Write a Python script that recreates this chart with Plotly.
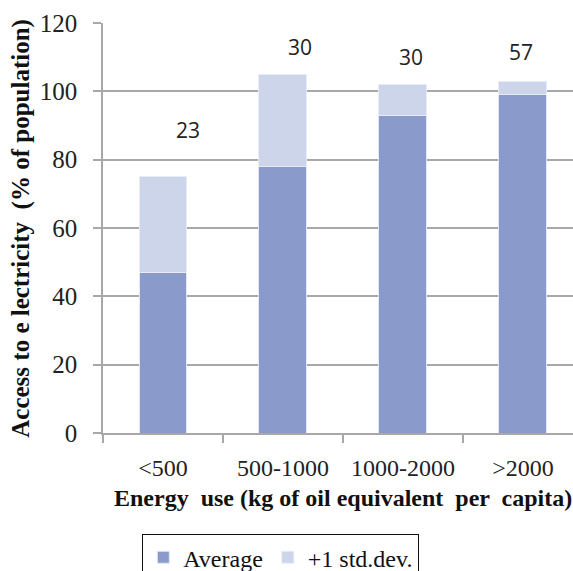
import plotly.graph_objects as go

# Energy-use classes and electricity access statistics
categories = ["<500", "500-1000", "1000-2000", ">2000"]
average = [47, 78, 93, 99]
std_dev = [28, 27, 9, 4]
sample_sizes = ["23", "30", "30", "57"]
label_heights = [88.7, 113, 110, 111.5]
label_shifts = [25, 17, 8, -2]
y_ticks = [0, 20, 40, 60, 80, 100, 120]

dark = "#8a9acb"
light = "#ccd5e9"
grid = "#a8a8a8"
serif = "Liberation Serif, Times New Roman, serif"

fig = go.Figure()
fig.add_trace(go.Bar(
    x=categories, y=average, name="Average",
    marker=dict(color=dark, line=dict(color="#e4e8f4", width=1)),
))
fig.add_trace(go.Bar(
    x=categories, y=std_dev, name="+1 std.dev.",
    marker=dict(color=light, line=dict(color="#e8ecf6", width=1)),
))

for cat, txt, h, dx in zip(categories, sample_sizes, label_heights, label_shifts):
    fig.add_annotation(
        x=cat, y=h, xref="x", yref="y", text=txt, showarrow=False,
        xshift=dx, font=dict(family="Open Sans, sans-serif", size=21, color="#222"),
    )

# axis titles
fig.add_annotation(
    x=1.5, xref="x", y=-0.158, yref="paper", yanchor="middle",
    text="<b>Energy\u00a0 use (kg of oil equivalent \u00a0per \u00a0capita)</b>",
    showarrow=False, font=dict(family=serif, size=24, color="#111"),
)
fig.add_annotation(
    x=-0.175, xref="paper", y=0.5, yref="paper", xanchor="center",
    text="<b>Access to e lectricity \u00a0(% of population)</b>",
    textangle=-90, showarrow=False, font=dict(family=serif, size=25, color="#111"),
)

fig.update_layout(
    width=573, height=571,
    margin=dict(l=103, r=0, t=23, b=138, autoexpand=False),
    paper_bgcolor="white", plot_bgcolor="white",
    barmode="stack", bargap=0.6,
    showlegend=True,
    legend=dict(
        orientation="h", x=0.083, xanchor="left", y=-0.246, yanchor="top",
        traceorder="normal",
        bordercolor="#111", borderwidth=1.3,
        font=dict(family=serif, size=24, color="#111"),
    ),
    xaxis=dict(
        type="category", range=[-0.5, 3.417],
        showline=True, linecolor=grid, linewidth=1.5,
        ticks="outside", tickson="boundaries", ticklen=8, tickcolor=grid, tickwidth=1.5,
        tickfont=dict(family=serif, size=24, color="#222"),
        ticklabelstandoff=12,
        showgrid=False, fixedrange=True,
    ),
    yaxis=dict(
        range=[0, 120], tickvals=y_ticks,
        showline=True, linecolor=grid, linewidth=1.5,
        ticks="outside", ticklen=8, tickcolor=grid, tickwidth=1.5,
        tickfont=dict(family=serif, size=25, color="#222"),
        ticklabelstandoff=11,
        showgrid=True, gridcolor=grid, gridwidth=1.5,
        zeroline=False,
    ),
)

fig.write_html("out.html")
